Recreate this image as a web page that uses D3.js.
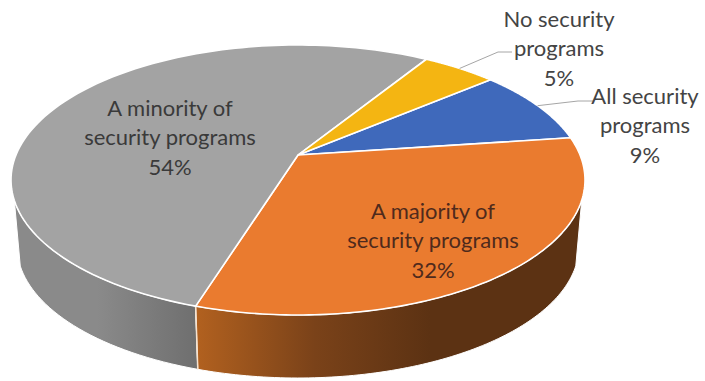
<!DOCTYPE html>
<html>
<head>
<meta charset="utf-8">
<script src="https://cdn.jsdelivr.net/npm/d3@7"></script>
<style>
  html, body { margin: 0; padding: 0; background: #fff; }
  svg { display: block; }
  text { font-family: Lato, "Open Sans", sans-serif; font-size: 22px; text-anchor: middle; }
</style>
</head>
<body>
<svg id="chart" width="705" height="381"></svg>
<script>
// Survey shares, clockwise from the blue slice
const categories = ["All security programs", "A majority of security programs", "A minority of security programs", "No security programs"];
const shares = [9, 32, 54, 5];
const labelLines = [["All security", "programs"], ["A majority of", "security programs"], ["A minority of", "security programs"], ["No security", "programs"]];
const sliceColors = ["#3f69bb", "#ea7b2f", "#a3a3a3", "#f4b512"];
const textColors = ["#444", "#4f2a1c", "#3a3a3a", "#444"];

// Label anchors (centre x, first-line centre y), and elbow of the leader lines
const labelAnchors = [[645, 95], [433, 210], [170, 107], [559, 18]];
const leaderElbows = [[578, 101, 593], null, null, [498, 52, 512]];
const lineStep = 29.5;

const svg = d3.select("#chart");

// The disc is tilted: a projective map of the unit circle onto an ellipse,
// so the wedges meet above the ellipse centre.
const tilt = -0.185;
const topFace = { cx: 298, cy: 180, rx: 287, ry: 135 };
const baseFace = { cx: 298, cy: 246, rx: 281, ry: 132 };

function disc(theta) {
  const x = Math.sin(theta), y = -Math.cos(theta);
  const d = 1 + tilt * y;
  return [x * Math.sqrt(1 - tilt * tilt) / d, (y + tilt) / d];
}
const project = (e, [u, v]) => [e.cx + e.rx * u, e.cy + e.ry * v];

const pie = d3.pie().sort(null).value(d => d)
  .startAngle(0.869).endAngle(0.869 + 2 * Math.PI);
const arcs = pie(shares);

const steps = a => d3.range(0, 121).map(i => a.startAngle + (a.endAngle - a.startAngle) * i / 120);
const line = d3.line();

// Shaded side walls
const defs = svg.append("defs");
function wallGradient(id, stops, x1, x2) {
  const g = defs.append("linearGradient").attr("id", id)
    .attr("gradientUnits", "userSpaceOnUse")
    .attr("x1", x1).attr("x2", x2).attr("y1", 0).attr("y2", 0);
  stops.forEach(([o, c]) => g.append("stop").attr("offset", o).attr("stop-color", c));
}
wallGradient("wall-gray", [[0, "#8a8a8a"], [0.45, "#8a8a8a"], [1, "#6e6e6e"]], 13, 200);
wallGradient("wall-orange", [[0, "#b0601f"], [0.5, "#7a4219"], [1, "#5c3213"]], 200, 430);

const wallFill = { 1: "url(#wall-orange)", 2: "url(#wall-gray)" };
const wallVisibleFrom = 0.14;

[2, 1].forEach(i => {
  const rim = steps(arcs[i]).map(disc).filter(p => p[1] > wallVisibleFrom);
  const pts = rim.map(p => project(topFace, p)).concat(rim.slice().reverse().map(p => project(baseFace, p)));
  svg.append("path")
    .attr("d", line(pts) + "Z")
    .attr("fill", wallFill[i])
    .attr("stroke", "#fff")
    .attr("stroke-width", 1);
});

// Seam between the two visible walls
const seam = disc(arcs[1].endAngle);
svg.append("path")
  .attr("d", line([project(topFace, seam), project(baseFace, seam)]))
  .attr("stroke", "#f6e3d0").attr("stroke-width", 1.5).attr("fill", "none");

// Top face
const apex = project(topFace, [0, tilt]);
svg.append("g").selectAll("path").data(arcs).join("path")
  .attr("d", a => line([apex].concat(steps(a).map(t => project(topFace, disc(t))))) + "Z")
  .attr("fill", (a, i) => sliceColors[i])
  .attr("stroke", "#fff")
  .attr("stroke-width", 1.6)
  .attr("stroke-linejoin", "round");

// Leader lines for the two outside labels
arcs.forEach((a, i) => {
  const e = leaderElbows[i];
  if (!e) return;
  const start = project(topFace, disc((a.startAngle + a.endAngle) / 2));
  svg.append("path")
    .attr("d", line([start, [e[0], e[1]], [e[2], e[1]]]))
    .attr("fill", "none").attr("stroke", "#a6a6a6").attr("stroke-width", 1);
});

// Labels: name lines, then the share
categories.forEach((name, i) => {
  const [x, y] = labelAnchors[i];
  const t = svg.append("text").attr("fill", textColors[i]).attr("aria-label", name);
  labelLines[i].concat([shares[i] + "%"]).forEach((s, j) => {
    t.append("tspan").attr("x", x).attr("y", y + j * lineStep)
      .attr("dominant-baseline", "central").text(s);
  });
});
</script>
</body>
</html>
